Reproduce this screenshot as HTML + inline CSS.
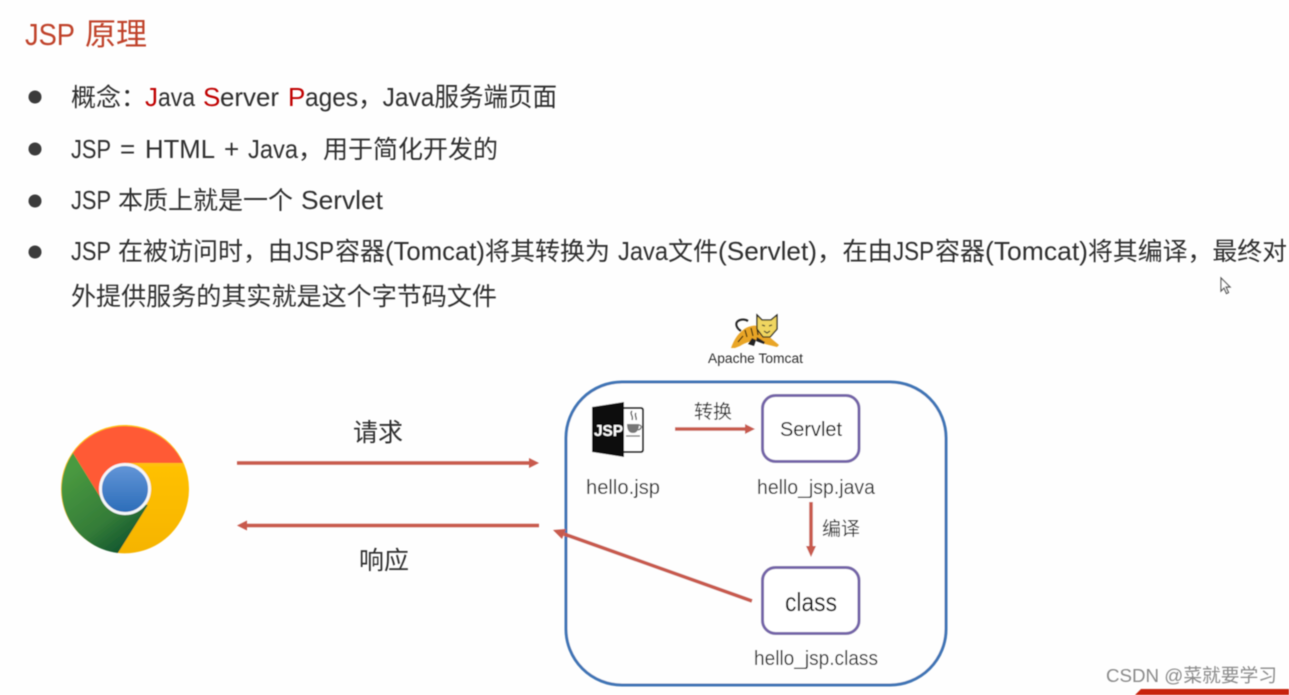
<!DOCTYPE html>
<html><head><meta charset="utf-8"><style>
html,body{margin:0;padding:0;background:#fefefe;width:1289px;height:695px;overflow:hidden}
svg{display:block}
text{font-family:"Liberation Sans","Noto Sans CJK SC",sans-serif;fill:#2f2f2f}
</style></head><body>
<svg width="1289" height="695" viewBox="0 0 1289 695" xmlns="http://www.w3.org/2000/svg">
<defs>
<linearGradient id="bl" x1="0" y1="0" x2="0" y2="1"><stop offset="0" stop-color="#6496d8"/><stop offset="1" stop-color="#2a6cb8"/></linearGradient>
<linearGradient id="gr" x1="0.2" y1="0.1" x2="0.8" y2="1"><stop offset="0" stop-color="#4a9a40"/><stop offset="0.6" stop-color="#347c38"/><stop offset="1" stop-color="#0c4f2c"/></linearGradient>
<linearGradient id="ye" x1="0.5" y1="0" x2="0.5" y2="1"><stop offset="0" stop-color="#ffc107"/><stop offset="1" stop-color="#f6b400"/></linearGradient>
<filter id="s" x="-5%" y="-5%" width="110%" height="110%"><feGaussianBlur stdDeviation="0.5"/></filter>
</defs>
<g filter="url(#s)">
<text x="25" y="45" font-size="31" textLength="50" lengthAdjust="spacingAndGlyphs" style="fill:#c0432a">JSP</text>
<text x="85" y="45" font-size="31" textLength="62" lengthAdjust="spacingAndGlyphs" style="fill:#c0432a">原理</text>
<circle cx="35" cy="97" r="6.5" fill="#3a3a3a"/><circle cx="35" cy="149" r="6.5" fill="#3a3a3a"/><circle cx="35" cy="201" r="6.5" fill="#3a3a3a"/><circle cx="35" cy="252" r="6.5" fill="#3a3a3a"/>

<text x="71" y="106" font-size="25">概念：</text>
<text x="145" y="106" font-size="26" style="fill:#c00000">J</text>
<text x="158" y="106" font-size="26" textLength="37" lengthAdjust="spacingAndGlyphs">ava</text>
<text x="203" y="106" font-size="26" style="fill:#c00000">S</text>
<text x="220" y="106" font-size="26" textLength="59" lengthAdjust="spacingAndGlyphs">erver</text>
<text x="288" y="106" font-size="26" style="fill:#c00000">P</text>
<text x="305" y="106" font-size="26" textLength="252" lengthAdjust="spacingAndGlyphs">ages，Java服务端页面</text>

<text x="71" y="158" font-size="26" textLength="40" lengthAdjust="spacingAndGlyphs">JSP</text>
<text x="120" y="158" font-size="26">=</text>
<text x="145" y="158" font-size="26" textLength="70" lengthAdjust="spacingAndGlyphs">HTML</text>
<text x="224" y="158" font-size="26">+</text>
<text x="248" y="158" font-size="26" textLength="50" lengthAdjust="spacingAndGlyphs">Java</text>
<text x="298" y="158" font-size="25" textLength="200" lengthAdjust="spacingAndGlyphs">，用于简化开发的</text>

<text x="71" y="209" font-size="26" textLength="40" lengthAdjust="spacingAndGlyphs">JSP</text>
<text x="118" y="209" font-size="25" textLength="175" lengthAdjust="spacingAndGlyphs">本质上就是一个</text>
<text x="301" y="209" font-size="26" textLength="82" lengthAdjust="spacingAndGlyphs">Servlet</text>

<text x="71" y="260" font-size="26" textLength="40" lengthAdjust="spacingAndGlyphs">JSP</text>
<text x="118" y="260" font-size="25" textLength="175" lengthAdjust="spacingAndGlyphs">在被访问时，由</text>
<text x="293" y="260" font-size="26" textLength="41" lengthAdjust="spacingAndGlyphs">JSP</text>
<text x="335" y="260" font-size="25" textLength="50" lengthAdjust="spacingAndGlyphs">容器</text>
<text x="385" y="260" font-size="26" textLength="100" lengthAdjust="spacingAndGlyphs">(Tomcat)</text>
<text x="485" y="260" font-size="25" textLength="125" lengthAdjust="spacingAndGlyphs">将其转换为</text>
<text x="618" y="260" font-size="26" textLength="50" lengthAdjust="spacingAndGlyphs">Java</text>
<text x="668" y="260" font-size="25" textLength="50" lengthAdjust="spacingAndGlyphs">文件</text>
<text x="718" y="260" font-size="26" textLength="99" lengthAdjust="spacingAndGlyphs">(Servlet)</text>
<text x="817" y="260" font-size="25" textLength="76" lengthAdjust="spacingAndGlyphs">，在由</text>
<text x="893" y="260" font-size="26" textLength="41" lengthAdjust="spacingAndGlyphs">JSP</text>
<text x="935" y="260" font-size="25" textLength="50" lengthAdjust="spacingAndGlyphs">容器</text>
<text x="985" y="260" font-size="26" textLength="103" lengthAdjust="spacingAndGlyphs">(Tomcat)</text>
<text x="1088" y="260" font-size="25" textLength="199" lengthAdjust="spacingAndGlyphs">将其编译，最终对</text>

<text x="71" y="305" font-size="25" textLength="426" lengthAdjust="spacingAndGlyphs">外提供服务的其实就是这个字节码文件</text>

<!-- cursor -->
<path d="M1221 278v13l3-3 2.5 5.500 2-1-2.500-5.500h4z" fill="#fff" stroke="#555" stroke-width="1.2"/>

<!-- tomcat -->
<path d="M741 331c-5-3-6-8-3-10 3-2 7-2 10 0" fill="none" stroke="#222" stroke-width="2"/>
<path d="M731 348c3-8 6-13 12-18 5-4 11-5 16-4l6 7 8 7 6 5-2 2-12-3-7-4-6 1c-4 1-9 3-12 5l-5 2z" fill="#e9a526"/>
<path d="M748 344l4-6 4 2-2 6zM757 337l8 5-1 2-8-3z" fill="#222"/>
<path d="M745 330l2 7M751 328l2 8M757 328l1 7M738 342l5-6" stroke="#3a2a10" stroke-width="1.3" fill="none"/>
<path d="M757 315l5 5h9l6-5v14l-7 8h-7l-6-8z" fill="#f0d660" stroke="#222" stroke-width="1.300"/>
<path d="M762 325l3 1M769 326l3-1M764 331l3 2 3-2" stroke="#443" stroke-width="1.200" fill="none"/>
<text x="708" y="363" font-size="13.5" textLength="95" lengthAdjust="spacingAndGlyphs">Apache Tomcat</text>

<!-- container -->
<rect x="566" y="382" width="380" height="303" rx="56" fill="#fefefe" stroke="#3f74b5" stroke-width="3"/>

<!-- JSP icon -->
<rect x="618" y="408" width="25" height="44" rx="2" fill="#fff" stroke="#111" stroke-width="2"/>
<path d="M592 407l32-5v55l-32-5z" fill="#0a0a0a"/>
<text x="594" y="436" font-size="15.5" font-weight="700" textLength="29" lengthAdjust="spacingAndGlyphs" style="fill:#fff">JSP</text>
<path d="M632 411c-3 3 2 5 0 9M636 413c-2 2 1 4 0 7" stroke="#444" stroke-width="1.300" fill="none"/>
<path d="M627 424h12c0 6-2 9-6 9s-6-3-6-9z" fill="#777"/>
<path d="M639 425c3 0 3 4-1 5M626 436h14" stroke="#666" stroke-width="1.300" fill="none"/>

<text x="586" y="494" font-size="20" textLength="74" lengthAdjust="spacingAndGlyphs">hello.jsp</text>
<text x="757" y="494" font-size="20" textLength="118" lengthAdjust="spacingAndGlyphs">hello_jsp.java</text>
<text x="754" y="665" font-size="20" textLength="124" lengthAdjust="spacingAndGlyphs">hello_jsp.class</text>

<rect x="762.5" y="395.5" width="96.5" height="66" rx="13" fill="#fff" stroke="#7565a8" stroke-width="3"/>
<rect x="762.5" y="567.5" width="96.5" height="66" rx="13" fill="#fff" stroke="#7565a8" stroke-width="3"/>
<text x="780" y="436" font-size="20" textLength="62" lengthAdjust="spacingAndGlyphs" style="fill:#111">Servlet</text>
<text x="785" y="611" font-size="26" textLength="52" lengthAdjust="spacingAndGlyphs" style="fill:#000">class</text>

<text x="694" y="418" font-size="19" textLength="38" lengthAdjust="spacingAndGlyphs">转换</text>
<text x="822" y="535" font-size="19" textLength="38" lengthAdjust="spacingAndGlyphs">编译</text>
<text x="353" y="441" font-size="25" textLength="50" lengthAdjust="spacingAndGlyphs">请求</text>
<text x="359" y="569" font-size="25" textLength="50" lengthAdjust="spacingAndGlyphs">响应</text>

<!-- arrows -->
<g stroke="#c85a4e" stroke-width="3.6" fill="none">
<path d="M237 463H530"/><path d="M539 525.500H246"/>
<path d="M675 429H748"/><path d="M811 502V548"/><path d="M752 601L564 534"/>
</g>
<g fill="#c85a4e">
<path d="M539 463l-10-5v10z"/><path d="M237 525.500l10-5v10z"/>
<path d="M755 429l-10-5v10z"/><path d="M811 557l-5-11h10z"/><path d="M553 530l13-1-4 10z"/>
</g>

<!-- chrome -->
<circle cx="125" cy="489" r="64" fill="#ffc107"/>
<path d="M73 453A64 64 0 0 1 183 463H125L102 500z" fill="#ff5a36"/>
<path d="M73 453A64 64 0 0 0 118 553L148 505 102 500z" fill="url(#gr)"/>
<path d="M183 463A64 64 0 0 1 118 553L148 505 125 463z" fill="url(#ye)"/>
<circle cx="125" cy="489" r="24.500" fill="url(#bl)" stroke="#f4f6f8" stroke-width="3"/>

<!-- watermark -->
<text x="1106" y="682" font-size="18.500" textLength="171" lengthAdjust="spacingAndGlyphs" style="fill:#8a8a8a">CSDN @菜就要学习</text>
<path d="M1135 695l6-6H1289v6z" fill="#c8200f"/>
</g>
</svg>
</body></html>
